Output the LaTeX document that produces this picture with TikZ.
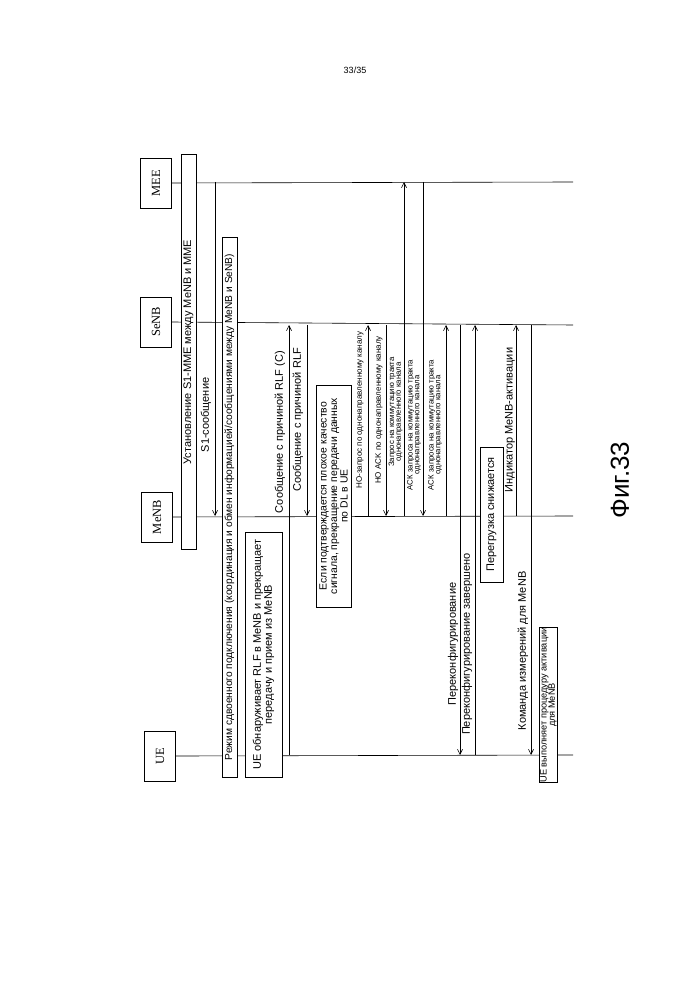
\documentclass[tikz,border=0pt]{standalone}
\usepackage{fontspec}
\setmainfont{Liberation Sans}
\newfontfamily\serifb{Liberation Serif}
\usetikzlibrary{arrows.meta}
\begin{document}
\begin{tikzpicture}[x=1pt,y=-1pt,line width=0.6pt,
  actor/.style={draw,line width=0.8pt,rotate=90,minimum width=50pt,minimum height=31pt,inner sep=0pt,font=\serifb\fontsize{12.5}{12}\selectfont},
  life/.style={line width=0.6pt},
  msg/.style={-{Straight Barb[length=5pt,width=5pt]}},
  lbl/.style={rotate=90,inner sep=0pt,font=\fontsize{11}{12}\selectfont},
  slbl/.style={rotate=90,inner sep=0pt,font=\fontsize{8}{8}\selectfont},
  tlbl/.style={rotate=90,inner sep=0pt,align=center,font=\fontsize{7.8}{6.8}\selectfont},
  tbox/.style={draw,fill=white,rotate=90,inner sep=1pt,font=\fontsize{11}{11}\selectfont}]
\useasboundingbox (0,0) rectangle (698,1000);
\node at (355,70) {\fontsize{9}{9}\selectfont 33/35};
\node[rotate=90] (fig) at (620,480) {\fontsize{26}{26}\selectfont Фиг.33};
% lifeline coordinates
\coordinate (MMEy) at (0,182);
\coordinate (SeNBy) at (0,325);
\coordinate (MeNBy) at (0,516);
\coordinate (UEy) at (0,755);
\coordinate (endx) at (573,0);
% actors
\node[actor] (mme) at (156,183) {MEE};
\node[actor] (senb) at (156,322) {SeNB};
\node[actor] (menb) at (157,517) {MeNB};
\node[actor] (ue) at (160,756) {UE};
\draw[life] (mme.south) -- (endx |- MMEy);
\draw[life] (senb.south) -- (endx |- SeNBy);
\draw[life] (menb.south) -- (endx |- MeNBy);
\draw[life] (ue.south) -- (endx |- UEy);
% boxes
\node[tbox,minimum width=395pt,minimum height=15pt,inner sep=0pt] (est) at (188.5,352) {Установление S1-MME между MeNB и MME};
\node[tbox,minimum width=540pt,minimum height=15pt,inner sep=0pt,font=\fontsize{10.2}{11}\selectfont] (dc) at (229.5,507) {Режим сдвоенного подключения (координация и обмен информацией/сообщениями между MeNB и SeNB)};
\node[tbox,minimum width=245pt,minimum height=37pt,inner sep=1pt,align=center] (rlf) at (263.5,654.5) {UE обнаруживает RLF в MeNB и прекращает\\передачу и прием из MeNB};
\node[tbox,minimum width=222pt,minimum height=35pt,inner sep=1pt,align=center,font=\fontsize{10.4}{10.5}\selectfont] (bad) at (333.5,496) {Если подтверждается плохое качество\\сигнала, прекращение передачи данных\\по DL в UE};
\node[tbox,minimum width=135pt,minimum height=23pt,inner sep=0pt] (ovl) at (491.5,514.5) {Перегрузка снижается};
\node[tbox,minimum width=136pt,minimum height=18pt,inner sep=0pt,align=center,font=\fontsize{9.2}{8.3}\selectfont] (act) at (548.5,705) {UE выполняет процедуру активации\\для MeNB};
% messages
\draw[msg] (215,0 |- MMEy) -- (215,0 |- MeNBy);
\node[lbl] (m1) at (206,415) {S1-сообщение};
\draw[msg] (289,0 |- UEy) -- (289,0 |- SeNBy);
\node[lbl] (m2) at (280,432) {Сообщение с причиной RLF (C)};
\draw[msg] (307,0 |- SeNBy) -- (307,0 |- MeNBy);
\node[lbl] (m3) at (298,420) {Сообщение с причиной RLF};
\draw[msg] (368,0 |- MeNBy) -- (368,0 |- SeNBy);
\node[slbl] (m4) at (360,410) {HO-запрос по однонаправленному каналу};
\draw[msg] (386,0 |- SeNBy) -- (386,0 |- MeNBy);
\node[slbl] (m5) at (379,410) {HO ACK по однонаправленному каналу};
\draw[msg] (404,0 |- MeNBy) -- (404,0 |- MMEy);
\node[tlbl] (m6) at (395.5,412) {Запрос на коммутацию тракта\\однонаправленного канала};
\draw[msg] (423,0 |- MMEy) -- (423,0 |- MeNBy);
\node[tlbl] (m7) at (414,425) {АСК запроса на коммутацию тракта\\однонаправленного канала};
\draw[msg] (446,0 |- MeNBy) -- (446,0 |- SeNBy);
\node[tlbl] (m8) at (435,425) {АСК запроса на коммутацию тракта\\однонаправленного канала};
\draw[msg] (460,0 |- SeNBy) -- (460,0 |- UEy);
\node[lbl] (m9) at (453,644) {Переконфигурирование};
\draw[msg] (475,0 |- UEy) -- (475,0 |- SeNBy);
\node[lbl] (m10) at (467,644) {Переконфигурирование завершено};
\draw[msg] (516,0 |- MeNBy) -- (516,0 |- SeNBy);
\node[lbl] (m11) at (510,420) {Индикатор MeNB-активации};
\draw[msg] (531,0 |- SeNBy) -- (531,0 |- UEy);
\node[lbl] (m12) at (523,651) {Команда измерений для MeNB};
\end{tikzpicture}
\end{document}
